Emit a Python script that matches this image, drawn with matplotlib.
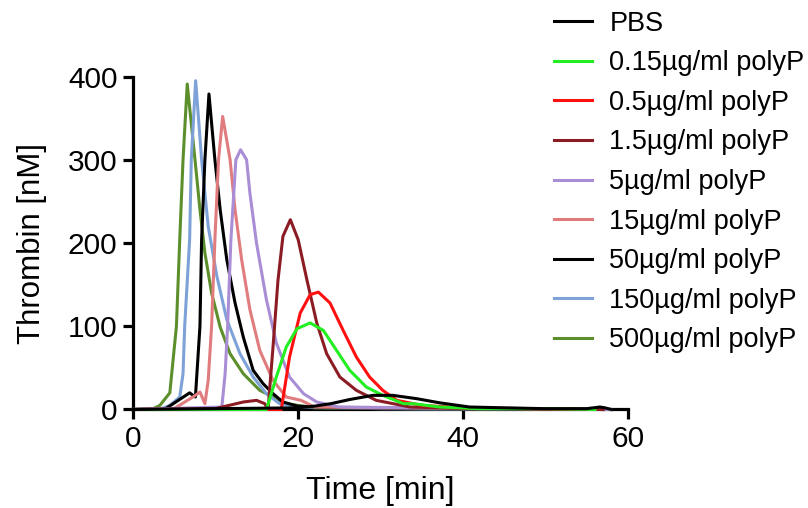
import matplotlib
matplotlib.use("Agg")
import matplotlib.pyplot as plt

plt.rcParams['font.family'] = ['Liberation Sans', 'DejaVu Sans']

# thrombin generation curves (time in min, thrombin in nM)
labels = ["PBS", "0.15µg/ml polyP", "0.5µg/ml polyP", "1.5µg/ml polyP",
          "5µg/ml polyP", "15µg/ml polyP", "50µg/ml polyP",
          "150µg/ml polyP", "500µg/ml polyP"]
colors = ["#000000", "#22ee22", "#ff1010", "#8c1c24", "#a98ed6",
          "#e07c7e", "#000000", "#7ea2d8", "#5c8f2c"]

t_pbs = [0, 10, 20, 22, 24, 26.3, 29.1, 31.5, 34.4, 37.2, 40.8, 45, 50, 55, 56.6, 57.2, 58]
v_pbs = [0, 1, 2, 4, 7, 12, 17, 17, 13, 8, 3, 2, 1, 1, 3, 2, 0]

t_015 = [0, 15, 16.2, 17.4, 18.6, 19.9, 21.5, 23.1, 24.7, 26.3, 28.3, 30.3, 32.8, 34, 37.2, 42, 50, 56]
v_015 = [0, 0, 0, 39, 75, 97, 104, 95, 71, 47, 27, 17, 7, 7, 3, 1, 1, 0]

t_05 = [0, 17, 18.0, 19.0, 20.3, 21.5, 22.5, 23.9, 25.5, 27.1, 28.7, 30.3, 32, 35, 40, 48, 56]
v_05 = [0, 0, 0, 63, 116, 138, 141, 128, 95, 63, 39, 23, 11, 5, 2, 1, 0]

t_15 = [0, 10, 13.4, 15, 16, 16.4, 17, 17.6, 18.2, 19.1, 20.05, 21.1, 22.3, 23.5, 25.1, 27.1, 29.5, 33.6, 40, 50, 57]
v_15 = [0, 1, 9, 11, 7, 0, 75, 155, 208, 228, 204, 156, 104, 67, 39, 23, 11, 3, 1, 1, 0]

t_5 = [0, 10.8, 11.2, 11.5, 11.9, 12.5, 13.07, 13.8, 14.2, 15.0, 16.2, 17.4, 19.0, 20.7, 22.3, 25, 35, 50, 58]
v_5 = [0, 3, 43, 100, 204, 300, 312, 300, 260, 200, 132, 80, 39, 19, 9, 3, 2, 1, 0]

t_15p = [0, 5, 7.3, 8.15, 8.75, 9.15, 9.56, 9.96, 10.4, 10.9, 11.8, 12.4, 13.2, 14.2, 15.4, 17, 18.6, 20.4, 22, 30, 50, 58]
v_15p = [0, 1, 15, 21, 7, 35, 100, 204, 300, 352, 300, 240, 180, 120, 71, 35, 15, 11, 3, 2, 1, 0]

t_50 = [0, 4, 6.9, 7.6, 8.15, 8.35, 8.75, 9.24, 9.96, 10.6, 11.4, 12.4, 13.4, 14.6, 15.8, 17.0, 18.2, 20, 25, 40, 57]
v_50 = [0, 1, 20, 15, 100, 204, 300, 379, 300, 240, 180, 128, 87, 47, 31, 19, 9, 4, 2, 1, 0]

t_150 = [0, 3.5, 4.5, 5.7, 6.1, 6.3, 6.9, 7.1, 7.63, 8.35, 9.15, 10.2, 11.4, 13.0, 14.6, 16.2, 17.8, 20, 30, 57]
v_150 = [0, 1, 5, 15, 43, 100, 204, 300, 395, 300, 220, 160, 108, 67, 39, 19, 7, 3, 1, 0]

t_500 = [0, 2.5, 3.3, 4.5, 5.3, 5.7, 6.1, 6.61, 7.55, 8.15, 8.75, 9.56, 10.6, 11.8, 13.4, 15.4, 17, 18.6, 22, 35, 57]
v_500 = [0, 1, 5, 20, 100, 204, 300, 391, 300, 240, 188, 140, 99, 67, 43, 23, 15, 7, 2, 1, 0]

times = [t_pbs, t_015, t_05, t_15, t_5, t_15p, t_50, t_150, t_500]
values = [v_pbs, v_015, v_05, v_15, v_5, v_15p, v_50, v_150, v_500]

fig = plt.figure(figsize=(8.08, 5.08), dpi=100)
ax = fig.add_axes([0.1642, 0.1939, 0.6130, 0.6555])

# draw last series first so PBS ends up on top
handles = [None] * len(labels)
for i in reversed(range(len(labels))):
    line, = ax.plot(times[i], values[i], color=colors[i], lw=2.2,
                    label=labels[i], clip_on=False, zorder=3)
    handles[i] = line

ax.set_xlim(0, 60)
ax.set_ylim(0, 400)
ax.set_xticks([0, 20, 40, 60])
ax.set_yticks([0, 100, 200, 300, 400])

for side in ['top', 'right']:
    ax.spines[side].set_visible(False)
for side in ['left', 'bottom']:
    ax.spines[side].set_linewidth(2.3)
ax.tick_params(width=2.3, length=7, labelsize=21.5, direction='out', pad=4)

ax.set_xlabel("Time [min]", fontsize=23, labelpad=17)
ax.set_ylabel("Thrombin [nM]", fontsize=22.5, labelpad=15)

fig.legend(handles, labels, loc='upper left', bbox_to_anchor=(0.672, 1.0),
           frameon=False, fontsize=19.5, handlelength=1.4, handletextpad=0.65,
           labelspacing=0.5, borderaxespad=0)

fig.savefig("out.png", dpi=100)
